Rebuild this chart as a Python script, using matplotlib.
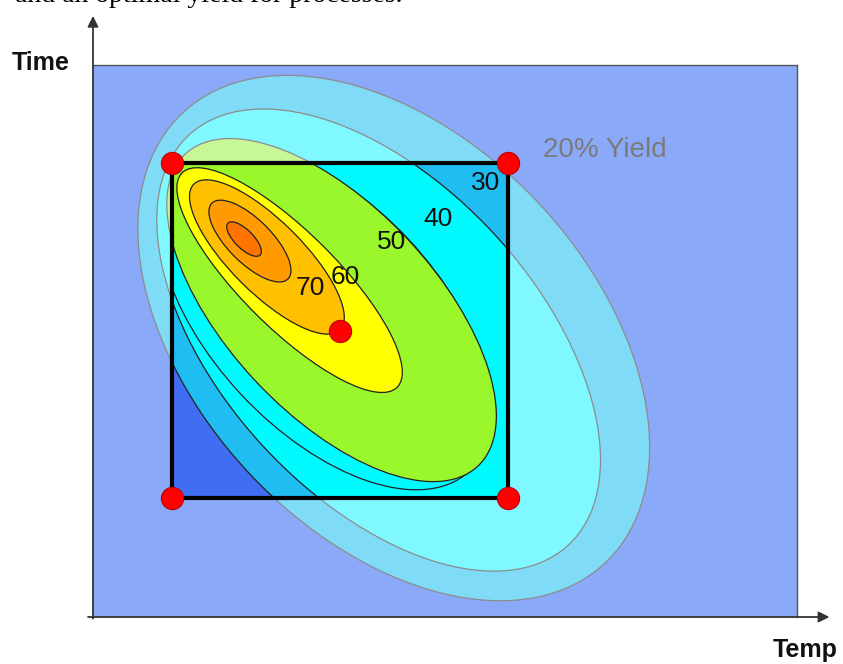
import numpy as np
import matplotlib.pyplot as plt
from matplotlib.patches import Ellipse, Rectangle

# 2^2 factorial design + centre point, coded units
temp_pts = [-1, 1, -1, 1, 0]
time_pts = [1, 1, -1, -1, 0]

# yield contours (coded units): centre, full axes, tilt in degrees
levels = [20, 30, 40, 50, 60, 70, 80, 90]
cx = [0.32, 0.23, -0.09, -0.05, -0.30, -0.435, -0.536, -0.571]
cy = [-0.045, -0.057, 0.081, 0.122, 0.301, 0.439, 0.534, 0.546]
major = [3.68, 3.33, 2.52, 2.55, 1.81, 1.23, 0.64, 0.27]
minor = [2.36, 1.87, 1.36, 1.24, 0.57, 0.43, 0.26, 0.11]
tilt = [-47, -47.4, -47, -47, -45, -45, -45, -45]

# colours inside the design box and the washed-out ones outside
col_in = ['#1fbdf2', '#00fbff', '#00fbff', '#9af72c', '#ffff00', '#ffc000', '#ff9a00', '#ff7300']
col_out = ['#80dcf6', '#80f8ff', '#80f8ff', '#c8f798', '#ffff90', '#ffe080', '#ffcc80', '#ffb980']
low_in = '#3f6ef3'
low_out = '#8aa9f8'

# contour labels
lab_txt = ['30', '40', '50', '60', '70']
lab_x = [0.869, 0.583, 0.31, 0.03, -0.179]
lab_y = [0.881, 0.666, 0.528, 0.32, 0.254]

fig = plt.figure(figsize=(8.43, 6.64), dpi=100)
ax = fig.add_axes([93/843, 47/664, 704/843, 552/664])
ax.set_xlim(-1.47, 2.72)
ax.set_ylim(-1.71, 1.585)
ax.set_facecolor(low_out)
ax.set_xticks([])
ax.set_yticks([])
for s in ['left', 'bottom']:
    ax.spines[s].set_visible(False)
for s in ['top', 'right']:
    ax.spines[s].set_color('#555555')
    ax.spines[s].set_linewidth(1.0)

# washed-out surface
for i in range(len(levels)):
    ec = 'none' if levels[i] == 40 else '#8c8c8c'
    ax.add_patch(Ellipse((cx[i], cy[i]), major[i], minor[i], angle=tilt[i],
                         fc=col_out[i], ec=ec, lw=0.9, zorder=1))

# saturated surface inside the design region
box = Rectangle((-1, -1), 2, 2, fc=low_in, ec='none', zorder=2)
ax.add_patch(box)
for i in range(len(levels)):
    e = Ellipse((cx[i], cy[i]), major[i], minor[i], angle=tilt[i],
                fc=col_in[i], ec='#222222', lw=0.9, zorder=3)
    ax.add_patch(e)
    e.set_clip_path(box)
ax.add_patch(Rectangle((-1, -1), 2, 2, fc='none', ec='black', lw=3, zorder=4))

ax.plot(temp_pts, time_pts, 'o', ms=16, mfc='#ff0000', mec='#c00000', mew=0.8,
        zorder=5, clip_on=False)

for t, x, y in zip(lab_txt, lab_x, lab_y):
    ax.text(x, y, t, ha='center', va='center', fontsize=19,
            family='Liberation Sans', color='#111111', zorder=6)
ax.text(1.577, 1.078, '20% Yield', ha='center', va='center', fontsize=20,
        family='Liberation Sans', color='#7a7a7a', zorder=6)

# axis arrows
arr = dict(arrowstyle='-|>', color='#333333', lw=1.3, mutation_scale=16)
ax.annotate('', xy=(0, 1.094), xytext=(0, -0.008), xycoords='axes fraction',
            arrowprops=arr, annotation_clip=False)
ax.annotate('', xy=(1.05, 0), xytext=(-0.011, 0), xycoords='axes fraction',
            arrowprops=arr, annotation_clip=False)
ax.text(-0.075, 1.004, 'Time', transform=ax.transAxes, ha='center', va='center',
        fontsize=18, fontweight='bold', family='Liberation Sans', color='#111111')
ax.text(1.011, -0.06, 'Temp', transform=ax.transAxes, ha='center', va='center',
        fontsize=18, fontweight='bold', family='Liberation Sans', color='#111111')

# caption cut off at the top of the page (as in the source scan)
fig.text(15/843, 1 - 2/664, 'and an optimal yield for processes.', ha='left',
         va='baseline', fontsize=20, family='Liberation Serif', color='black')

fig.savefig('out.png', dpi=100)
